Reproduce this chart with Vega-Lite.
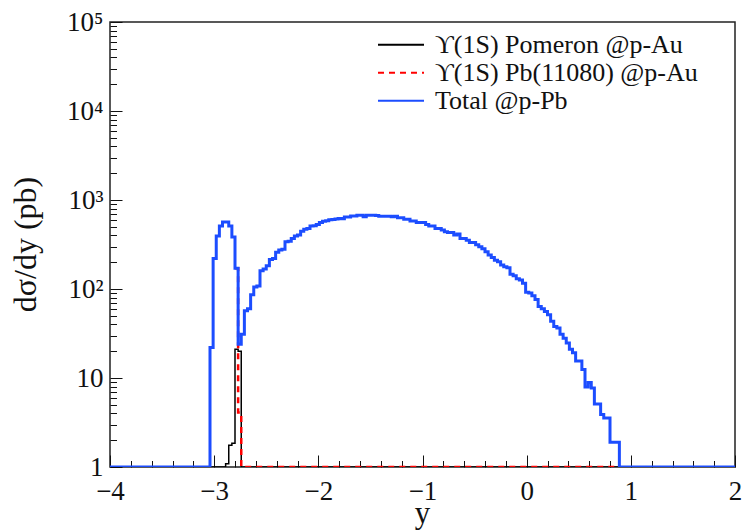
{
  "$schema": "https://vega.github.io/schema/vega-lite/v6.json",
  "width": 625,
  "height": 445,
  "autosize": {"type": "none"},
  "padding": {"left": 110, "top": 22, "right": 11, "bottom": 63},
  "background": "white",
  "config": {
    "view": {"stroke": "#222222", "strokeWidth": 1.5},
    "font": "Liberation Serif",
    "axis": {"grid": false, "domain": false, "tickColor": "#111111", "tickWidth": 1, "labelFont": "Liberation Serif", "titleFont": "Liberation Serif", "labelColor": "#111111", "titleColor": "#111111", "titleFontWeight": "normal", "labelOverlap": false, "labelFlush": false},
    "legend": {"title": null, "orient": "none", "legendX": 267, "legendY": 9, "symbolType": "stroke", "symbolSize": 2116, "symbolStrokeWidth": 2, "labelFont": "Liberation Serif", "labelFontSize": 26, "labelColor": "#111111", "labelOffset": 10, "rowPadding": 0, "clipHeight": 27.5, "labelLimit": 400}
  },
  "datasets": {
    "h": [
      {"series": "ϒ(1S) Pomeron @p-Au", "x": -4, "v": 1},
      {"series": "ϒ(1S) Pomeron @p-Au", "x": -2.89, "v": 1.09},
      {"series": "ϒ(1S) Pomeron @p-Au", "x": -2.86, "v": 1.75},
      {"series": "ϒ(1S) Pomeron @p-Au", "x": -2.83, "v": 1.85},
      {"series": "ϒ(1S) Pomeron @p-Au", "x": -2.80, "v": 21},
      {"series": "ϒ(1S) Pomeron @p-Au", "x": -2.77, "v": 20},
      {"series": "ϒ(1S) Pomeron @p-Au", "x": -2.74, "v": 1},
      {"series": "ϒ(1S) Pomeron @p-Au", "x": 2, "v": 1},
      {"series": "ϒ(1S) Pb(11080) @p-Au", "x": -2.80, "v": 171},
      {"series": "ϒ(1S) Pb(11080) @p-Au", "x": -2.77, "v": 4.1},
      {"series": "ϒ(1S) Pb(11080) @p-Au", "x": -2.74, "v": 1},
      {"series": "ϒ(1S) Pb(11080) @p-Au", "x": 0.86, "v": 1},
      {"series": "Total @p-Pb", "x": -4, "v": 1},
      {"series": "Total @p-Pb", "x": -3.04, "v": 22},
      {"series": "Total @p-Pb", "x": -3.01, "v": 220},
      {"series": "Total @p-Pb", "x": -2.98, "v": 395},
      {"series": "Total @p-Pb", "x": -2.95, "v": 512},
      {"series": "Total @p-Pb", "x": -2.92, "v": 566},
      {"series": "Total @p-Pb", "x": -2.89, "v": 566},
      {"series": "Total @p-Pb", "x": -2.86, "v": 512},
      {"series": "Total @p-Pb", "x": -2.83, "v": 385},
      {"series": "Total @p-Pb", "x": -2.80, "v": 171},
      {"series": "Total @p-Pb", "x": -2.77, "v": 24},
      {"series": "Total @p-Pb", "x": -2.74, "v": 31},
      {"series": "Total @p-Pb", "x": -2.71, "v": 57},
      {"series": "Total @p-Pb", "x": -2.68, "v": 60},
      {"series": "Total @p-Pb", "x": -2.65, "v": 86},
      {"series": "Total @p-Pb", "x": -2.62, "v": 105},
      {"series": "Total @p-Pb", "x": -2.59, "v": 108},
      {"series": "Total @p-Pb", "x": -2.56, "v": 160},
      {"series": "Total @p-Pb", "x": -2.53, "v": 168},
      {"series": "Total @p-Pb", "x": -2.50, "v": 183},
      {"series": "Total @p-Pb", "x": -2.47, "v": 215},
      {"series": "Total @p-Pb", "x": -2.44, "v": 220},
      {"series": "Total @p-Pb", "x": -2.41, "v": 258},
      {"series": "Total @p-Pb", "x": -2.38, "v": 274},
      {"series": "Total @p-Pb", "x": -2.35, "v": 280},
      {"series": "Total @p-Pb", "x": -2.32, "v": 339},
      {"series": "Total @p-Pb", "x": -2.29, "v": 345},
      {"series": "Total @p-Pb", "x": -2.26, "v": 369},
      {"series": "Total @p-Pb", "x": -2.23, "v": 395},
      {"series": "Total @p-Pb", "x": -2.20, "v": 405},
      {"series": "Total @p-Pb", "x": -2.17, "v": 446},
      {"series": "Total @p-Pb", "x": -2.14, "v": 470},
      {"series": "Total @p-Pb", "x": -2.11, "v": 478},
      {"series": "Total @p-Pb", "x": -2.08, "v": 512},
      {"series": "Total @p-Pb", "x": -2.05, "v": 515},
      {"series": "Total @p-Pb", "x": -2.02, "v": 529},
      {"series": "Total @p-Pb", "x": -1.99, "v": 557},
      {"series": "Total @p-Pb", "x": -1.96, "v": 577},
      {"series": "Total @p-Pb", "x": -1.93, "v": 585},
      {"series": "Total @p-Pb", "x": -1.90, "v": 598},
      {"series": "Total @p-Pb", "x": -1.87, "v": 605},
      {"series": "Total @p-Pb", "x": -1.84, "v": 612},
      {"series": "Total @p-Pb", "x": -1.81, "v": 620},
      {"series": "Total @p-Pb", "x": -1.78, "v": 617},
      {"series": "Total @p-Pb", "x": -1.75, "v": 644},
      {"series": "Total @p-Pb", "x": -1.72, "v": 644},
      {"series": "Total @p-Pb", "x": -1.69, "v": 661},
      {"series": "Total @p-Pb", "x": -1.66, "v": 661},
      {"series": "Total @p-Pb", "x": -1.63, "v": 673},
      {"series": "Total @p-Pb", "x": -1.60, "v": 673},
      {"series": "Total @p-Pb", "x": -1.57, "v": 648},
      {"series": "Total @p-Pb", "x": -1.54, "v": 673},
      {"series": "Total @p-Pb", "x": -1.51, "v": 673},
      {"series": "Total @p-Pb", "x": -1.48, "v": 673},
      {"series": "Total @p-Pb", "x": -1.45, "v": 668},
      {"series": "Total @p-Pb", "x": -1.42, "v": 656},
      {"series": "Total @p-Pb", "x": -1.39, "v": 656},
      {"series": "Total @p-Pb", "x": -1.36, "v": 656},
      {"series": "Total @p-Pb", "x": -1.33, "v": 656},
      {"series": "Total @p-Pb", "x": -1.30, "v": 650},
      {"series": "Total @p-Pb", "x": -1.27, "v": 656},
      {"series": "Total @p-Pb", "x": -1.24, "v": 632},
      {"series": "Total @p-Pb", "x": -1.21, "v": 632},
      {"series": "Total @p-Pb", "x": -1.18, "v": 606},
      {"series": "Total @p-Pb", "x": -1.15, "v": 606},
      {"series": "Total @p-Pb", "x": -1.12, "v": 580},
      {"series": "Total @p-Pb", "x": -1.09, "v": 580},
      {"series": "Total @p-Pb", "x": -1.06, "v": 557},
      {"series": "Total @p-Pb", "x": -1.03, "v": 557},
      {"series": "Total @p-Pb", "x": -1.00, "v": 557},
      {"series": "Total @p-Pb", "x": -0.97, "v": 529},
      {"series": "Total @p-Pb", "x": -0.94, "v": 512},
      {"series": "Total @p-Pb", "x": -0.91, "v": 512},
      {"series": "Total @p-Pb", "x": -0.88, "v": 478},
      {"series": "Total @p-Pb", "x": -0.85, "v": 478},
      {"series": "Total @p-Pb", "x": -0.82, "v": 459},
      {"series": "Total @p-Pb", "x": -0.79, "v": 440},
      {"series": "Total @p-Pb", "x": -0.76, "v": 432},
      {"series": "Total @p-Pb", "x": -0.73, "v": 432},
      {"series": "Total @p-Pb", "x": -0.70, "v": 405},
      {"series": "Total @p-Pb", "x": -0.67, "v": 415},
      {"series": "Total @p-Pb", "x": -0.64, "v": 369},
      {"series": "Total @p-Pb", "x": -0.61, "v": 369},
      {"series": "Total @p-Pb", "x": -0.58, "v": 353},
      {"series": "Total @p-Pb", "x": -0.55, "v": 333},
      {"series": "Total @p-Pb", "x": -0.52, "v": 333},
      {"series": "Total @p-Pb", "x": -0.49, "v": 315},
      {"series": "Total @p-Pb", "x": -0.46, "v": 298},
      {"series": "Total @p-Pb", "x": -0.43, "v": 284},
      {"series": "Total @p-Pb", "x": -0.40, "v": 262},
      {"series": "Total @p-Pb", "x": -0.37, "v": 241},
      {"series": "Total @p-Pb", "x": -0.34, "v": 226},
      {"series": "Total @p-Pb", "x": -0.31, "v": 211},
      {"series": "Total @p-Pb", "x": -0.28, "v": 202},
      {"series": "Total @p-Pb", "x": -0.25, "v": 186},
      {"series": "Total @p-Pb", "x": -0.22, "v": 178},
      {"series": "Total @p-Pb", "x": -0.19, "v": 173},
      {"series": "Total @p-Pb", "x": -0.16, "v": 146},
      {"series": "Total @p-Pb", "x": -0.13, "v": 141},
      {"series": "Total @p-Pb", "x": -0.10, "v": 130},
      {"series": "Total @p-Pb", "x": -0.07, "v": 126},
      {"series": "Total @p-Pb", "x": -0.04, "v": 116},
      {"series": "Total @p-Pb", "x": -0.01, "v": 92},
      {"series": "Total @p-Pb", "x": 0.02, "v": 90},
      {"series": "Total @p-Pb", "x": 0.05, "v": 84},
      {"series": "Total @p-Pb", "x": 0.08, "v": 76},
      {"series": "Total @p-Pb", "x": 0.11, "v": 63.5},
      {"series": "Total @p-Pb", "x": 0.14, "v": 60},
      {"series": "Total @p-Pb", "x": 0.17, "v": 56},
      {"series": "Total @p-Pb", "x": 0.20, "v": 51.5},
      {"series": "Total @p-Pb", "x": 0.23, "v": 43.3},
      {"series": "Total @p-Pb", "x": 0.26, "v": 38},
      {"series": "Total @p-Pb", "x": 0.29, "v": 36.5},
      {"series": "Total @p-Pb", "x": 0.32, "v": 31},
      {"series": "Total @p-Pb", "x": 0.35, "v": 28},
      {"series": "Total @p-Pb", "x": 0.38, "v": 24.8},
      {"series": "Total @p-Pb", "x": 0.41, "v": 21},
      {"series": "Total @p-Pb", "x": 0.44, "v": 19.2},
      {"series": "Total @p-Pb", "x": 0.47, "v": 15.5},
      {"series": "Total @p-Pb", "x": 0.50, "v": 15.5},
      {"series": "Total @p-Pb", "x": 0.53, "v": 12.5},
      {"series": "Total @p-Pb", "x": 0.56, "v": 7.9},
      {"series": "Total @p-Pb", "x": 0.59, "v": 8.9},
      {"series": "Total @p-Pb", "x": 0.62, "v": 7.7},
      {"series": "Total @p-Pb", "x": 0.65, "v": 5.1},
      {"series": "Total @p-Pb", "x": 0.68, "v": 5.1},
      {"series": "Total @p-Pb", "x": 0.71, "v": 3.9},
      {"series": "Total @p-Pb", "x": 0.74, "v": 3.56},
      {"series": "Total @p-Pb", "x": 0.77, "v": 3.56},
      {"series": "Total @p-Pb", "x": 0.80, "v": 1.9},
      {"series": "Total @p-Pb", "x": 0.83, "v": 1.9},
      {"series": "Total @p-Pb", "x": 0.86, "v": 1.9},
      {"series": "Total @p-Pb", "x": 0.89, "v": 1},
      {"series": "Total @p-Pb", "x": 2, "v": 1}
    ]
  },
  "data": {"name": "h"},
  "layer": [
    {
      "transform": [{"filter": "datum.series == 'ϒ(1S) Pomeron @p-Au'"}],
      "mark": {"type": "line", "interpolate": "step-after", "strokeWidth": 1.5, "clip": true},
      "encoding": {
        "x": {"field": "x", "type": "quantitative", "scale": {"domain": [-4, 2], "nice": false, "zero": false},
          "axis": {"orient": "bottom", "values": [-3.8,-3.6,-3.4,-3.2,-2.8,-2.6,-2.4,-2.2,-1.8,-1.6,-1.4,-1.2,-0.8,-0.6,-0.4,-0.2,0.2,0.4,0.6,0.8,1.2,1.4,1.6,1.8], "labels": false, "tickSize": -6.5, "title": null}},
        "y": {"field": "v", "type": "quantitative", "scale": {"type": "log", "domain": [1, 100000], "nice": false},
          "axis": {"orient": "left", "values": [2,3,4,5,6,7,8,9,20,30,40,50,60,70,80,90,200,300,400,500,600,700,800,900,2000,3000,4000,5000,6000,7000,8000,9000,20000,30000,40000,50000,60000,70000,80000,90000], "labels": false, "tickSize": -6.5, "title": null}},
        "color": {"field": "series", "type": "nominal", "scale": {"domain": ["ϒ(1S) Pomeron @p-Au", "ϒ(1S) Pb(11080) @p-Au", "Total @p-Pb"], "range": ["#000000", "#ff0000", "#1c4dff"]}},
        "strokeDash": {"field": "series", "type": "nominal", "scale": {"domain": ["ϒ(1S) Pomeron @p-Au", "ϒ(1S) Pb(11080) @p-Au", "Total @p-Pb"], "range": [[1, 0], [6, 5], [1, 0]]}}
      }
    },
    {
      "transform": [{"filter": "datum.series == 'ϒ(1S) Pb(11080) @p-Au'"}],
      "mark": {"type": "line", "interpolate": "step-after", "strokeWidth": 2.5, "clip": true},
      "encoding": {
        "x": {"field": "x", "type": "quantitative", "axis": null},
        "y": {"field": "v", "type": "quantitative", "axis": null},
        "color": {"field": "series", "type": "nominal"},
        "strokeDash": {"field": "series", "type": "nominal"}
      }
    },
    {
      "transform": [{"filter": "datum.series == 'Total @p-Pb'"}],
      "mark": {"type": "line", "interpolate": "step-after", "strokeWidth": 3, "clip": true},
      "encoding": {
        "x": {"field": "x", "type": "quantitative",
          "axis": {"orient": "bottom", "values": [-4,-3,-2,-1,0,1,2], "format": "d", "tickSize": -12, "labelPadding": 23, "labelFontSize": 27, "title": "y", "titleFontSize": 31, "titleBaseline": "alphabetic", "titleX": 312, "titleY": 55}},
        "y": {"field": "v", "type": "quantitative",
          "axis": {"orient": "left", "values": [1,10,100,1000,10000,100000], "tickSize": -12, "labelPadding": 19, "labelFontSize": 27, "labelExpr": "datum.value == 1 ? '1' : datum.value == 10 ? '10' : datum.value == 100 ? '10²' : datum.value == 1000 ? '10³' : datum.value == 10000 ? '10⁴' : '10⁵'", "title": "dσ/dy (pb)", "titleFontSize": 32, "titleAngle": 270, "titleBaseline": "alphabetic", "titleX": -75, "titleY": 222}},
        "color": {"field": "series", "type": "nominal"},
        "strokeDash": {"field": "series", "type": "nominal"}
      }
    }
  ],
  "resolve": {"axis": {"x": "independent", "y": "independent"}}
}
